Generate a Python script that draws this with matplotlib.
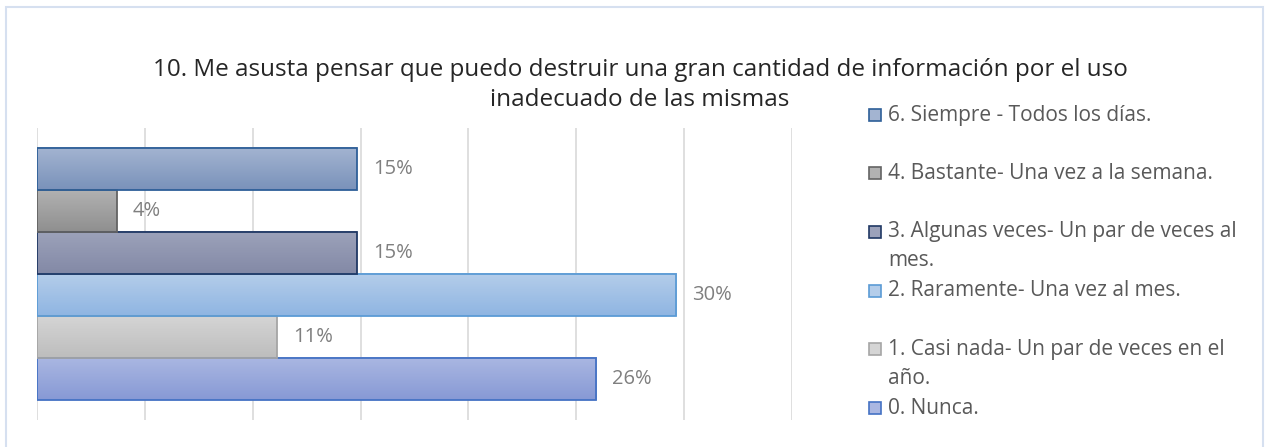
import matplotlib.pyplot as plt
import numpy as np
from matplotlib.colors import LinearSegmentedColormap
from matplotlib.patches import Rectangle

# datos (27 respuestas)
categorias = ['0. Nunca.',
              '1. Casi nada- Un par de veces en el\naño.',
              '2. Raramente- Una vez al mes.',
              '3. Algunas veces- Un par de veces al\nmes.',
              '4. Bastante- Una vez a la semana.',
              '6. Siempre - Todos los días.']
valores = [7 / 27, 3 / 27, 8 / 27, 4 / 27, 1 / 27, 4 / 27]
etiquetas = ['26%', '11%', '30%', '15%', '4%', '15%']

# colores: arriba, abajo del degradado, borde
col_arriba = ['#aab7e2', '#d5d5d5', '#b4cdea', '#9ca2ba', '#b2b2b2', '#a3b4d1']
col_abajo = ['#8799d5', '#bdbdbd', '#8fb5e2', '#8389a6', '#8f8f8f', '#7a92ba']
col_borde = ['#4472c4', '#a5a5a5', '#5b9bd5', '#203864', '#636363', '#2e5f98']

titulo = ("10. Me asusta pensar que puedo destruir una gran cantidad de información por el uso\n"
          "inadecuado de las mismas")

plt.rcParams['font.family'] = ['Open Sans', 'DejaVu Sans']

fig = plt.figure(figsize=(12.65, 4.47), dpi=100)
ax = fig.add_axes([37 / 1265, 1 - 420 / 447, (792 - 37) / 1265, 292 / 447])

pos = np.arange(len(valores))
barras = ax.barh(pos, valores, height=1.0, facecolor='none', zorder=3)

for i, b in enumerate(barras):
    b.set_edgecolor(col_borde[i])
    b.set_linewidth(1.3)
    x0, y0 = b.get_x(), b.get_y()
    w, h = b.get_width(), b.get_height()
    cmap = LinearSegmentedColormap.from_list('g', [col_abajo[i], col_arriba[i]])
    grad = np.linspace(0, 1, 64).reshape(-1, 1)
    ax.imshow(grad, cmap=cmap, origin='lower', aspect='auto',
              extent=(x0, x0 + w, y0, y0 + h), zorder=2)
    ax.text(x0 + w + 0.0075, y0 + h / 2, etiquetas[i], va='center', ha='left',
            fontsize=14.5, color='#7f7f7f')

ax.set_xlim(0, 0.35)
ax.set_ylim(-0.976, len(valores) - 1 + 0.976)
ax.set_xticks(np.arange(0, 0.351, 0.05))
ax.set_yticks([])
ax.tick_params(axis='x', length=0, labelbottom=False)
ax.grid(axis='x', color='#d9d9d9', linewidth=1.2, zorder=0)
ax.set_axisbelow(True)
for s in ax.spines.values():
    s.set_visible(False)

fig.text(0.506, 1 - 70 / 447, titulo.split('\n')[0], ha='center', va='center',
         fontsize=17.5, color='#262626')
fig.text(0.506, 1 - 100 / 447, titulo.split('\n')[1], ha='center', va='center',
         fontsize=17.5, color='#262626')

# leyenda manual (de arriba hacia abajo)
y_ley = [115, 173, 232, 291, 349, 408]
for k, i in enumerate(range(len(valores) - 1, -1, -1)):
    yy = 1 - y_ley[k] / 447
    r = Rectangle((869 / 1265, yy - 6 / 447), 12 / 1265, 12 / 447,
                  transform=fig.transFigure, facecolor=col_arriba[i],
                  edgecolor=col_borde[i], linewidth=1.2)
    fig.patches.append(r)
    for j, linea in enumerate(categorias[i].split('\n')):
        fig.text(888 / 1265, yy - j * 29 / 447, linea, ha='left', va='center',
                 fontsize=15, color='#595959')

# marco del grafico
fig.patches.append(Rectangle((6 / 1265, -0.01), 1257 / 1265, 1 - 7 / 447 + 0.01,
                             transform=fig.transFigure, facecolor='none',
                             edgecolor='#d6e0f0', linewidth=1.5))

plt.savefig('out.png', dpi=100)
